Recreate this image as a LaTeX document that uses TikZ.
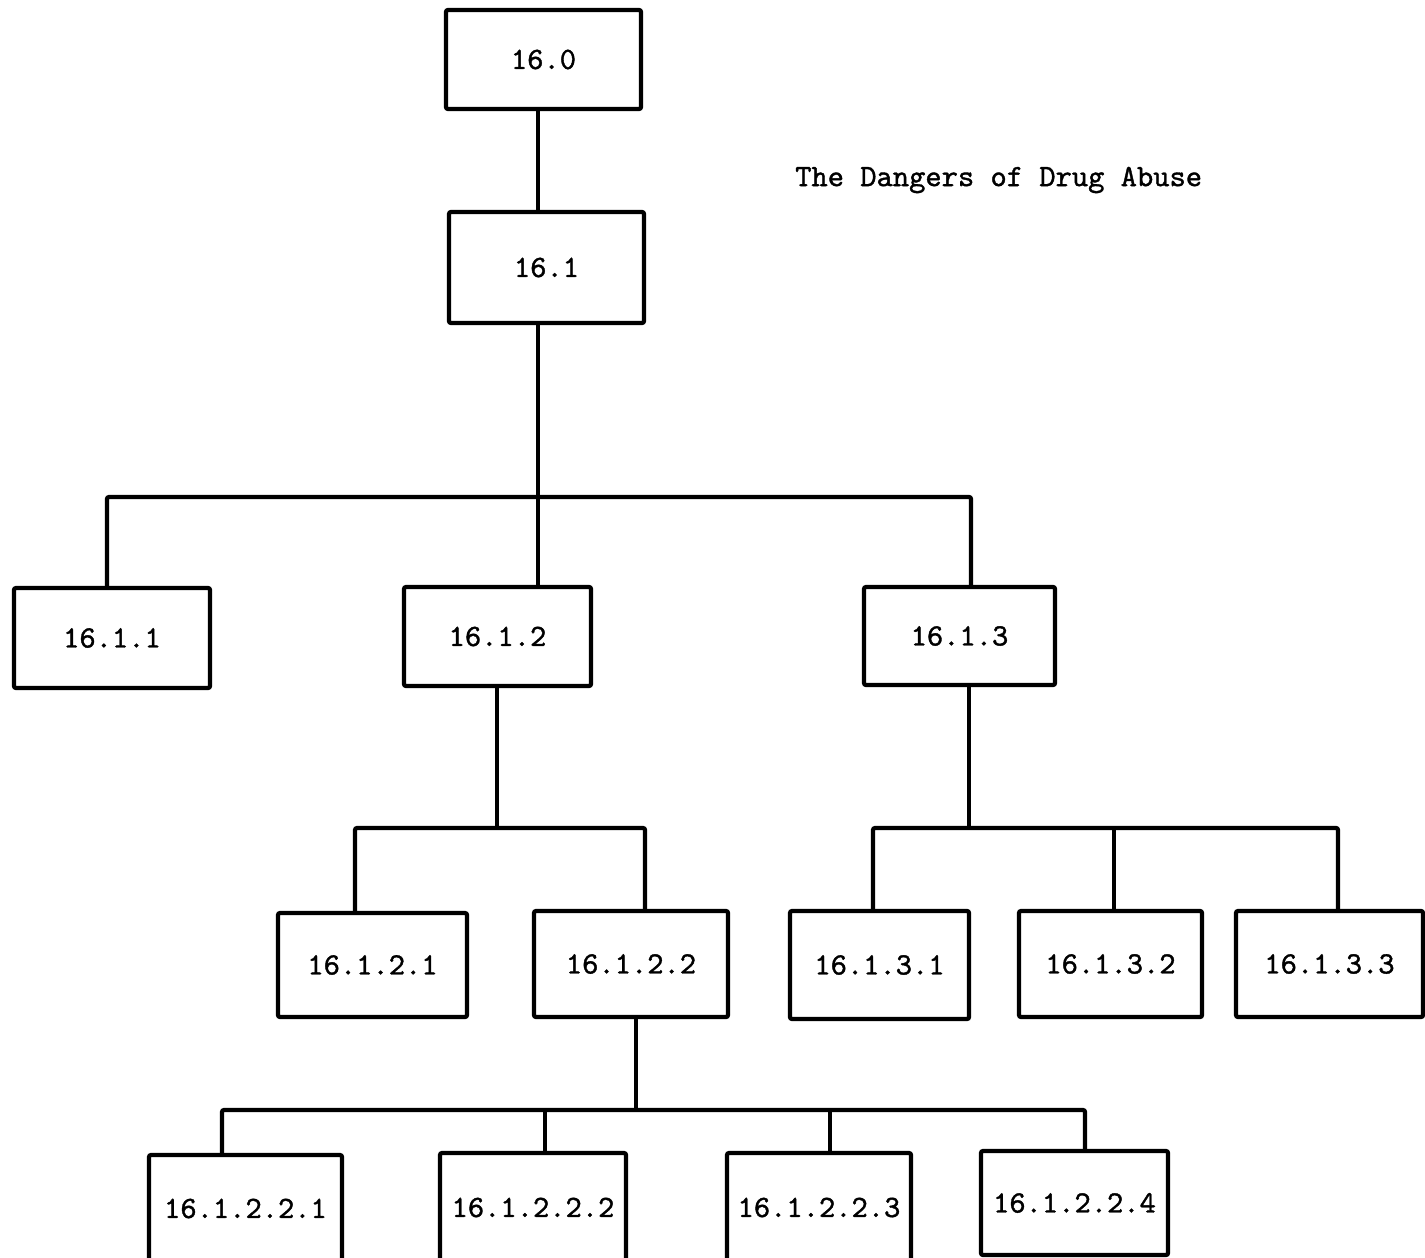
\documentclass[tikz,border=0pt]{standalone}
\usepackage{fontspec}
\newfontfamily\tw{lmmono10-regular.otf}[FakeBold=1.2]
\begin{document}
\begin{tikzpicture}[x=1pt,y=-1pt,
  box/.style={draw,line width=4.2pt,rounded corners=2pt,font=\tw\fontsize{31}{36}\selectfont,inner sep=0pt},
  conn/.style={line width=4.2pt}]
\fill[white] (0,0) rectangle (1425,1258);
\useasboundingbox (0,0) rectangle (1425,1258);
\newcommand{\bx}[6]{\node[box,minimum width=#4-#2,minimum height=#5-#3] (#1) at ({(#2+#4)/2},{(#3+#5)/2}) {#6};}
\bx{a}{446}{10}{641}{109}{16.0}
\bx{b}{449}{212}{644}{323}{16.1}
\bx{c1}{14}{588}{210}{688}{16.1.1}
\bx{c2}{404}{587}{591}{686}{16.1.2}
\bx{c3}{864}{587}{1055}{685}{16.1.3}
\bx{d1}{278}{913}{467}{1017}{16.1.2.1}
\bx{d2}{534}{911}{728}{1017}{16.1.2.2}
\bx{e1}{790}{911}{969}{1019}{16.1.3.1}
\bx{e2}{1019}{911}{1202}{1017}{16.1.3.2}
\bx{e3}{1236}{911}{1423}{1017}{16.1.3.3}
\bx{f1}{149}{1155}{342}{1262}{16.1.2.2.1}
\bx{f2}{440}{1153}{626}{1262}{16.1.2.2.2}
\bx{f3}{727}{1153}{911}{1262}{16.1.2.2.3}
\bx{f4}{981}{1151}{1168}{1255}{16.1.2.2.4}
\node[font=\tw\fontsize{31}{36}\selectfont,anchor=west,inner sep=0pt] (title) at (795,180) {The Dangers of Drug Abuse};
% connectors
\draw[conn] (a.south -| 538,0) -- (b.north -| 538,0);
\coordinate (bus1) at (538,497);
\draw[conn] (b.south -| bus1) -- (bus1);
\draw[conn,rounded corners=2pt] (c1.north -| 107,0) -- (107,497) -- (971,497) -- (c3.north -| 971,0);
\draw[conn] (bus1) -- (c2.north -| bus1);
\coordinate (bus2) at (497,828);
\draw[conn] (c2.south -| bus2) -- (bus2);
\draw[conn,rounded corners=2pt] (d1.north -| 355,0) -- (355,828) -- (645,828) -- (d2.north -| 645,0);
\coordinate (bus3) at (969,828);
\draw[conn] (c3.south -| bus3) -- (bus3);
\draw[conn,rounded corners=2pt] (e1.north -| 873,0) -- (873,828) -- (1338,828) -- (e3.north -| 1338,0);
\draw[conn] (1114,828) -- (e2.north -| 1114,0);
\coordinate (bus4) at (636,1110);
\draw[conn] (d2.south -| bus4) -- (bus4);
\draw[conn,rounded corners=2pt] (f1.north -| 222,0) -- (222,1110) -- (1085,1110) -- (f4.north -| 1085,0);
\draw[conn] (545,1110) -- (f2.north -| 545,0);
\draw[conn] (830,1110) -- (f3.north -| 830,0);
\end{tikzpicture}
\end{document}
